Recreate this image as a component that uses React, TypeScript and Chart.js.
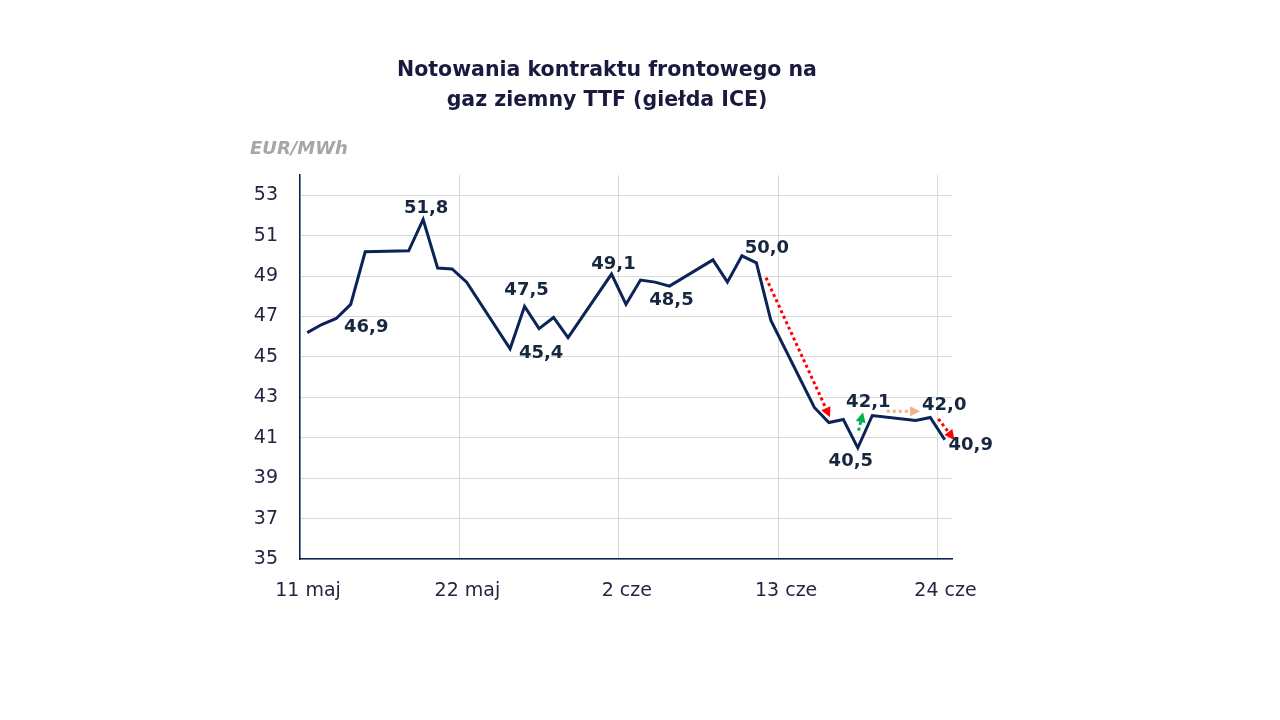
import { useEffect, useRef } from "react"
import { Chart, registerables } from "chart.js"

Chart.register(...registerables)

// Trading days (weekends skipped) and front-month TTF price, EUR/MWh
const startDate = "2026-05-11"
const tradingDays = [
  "2026-05-11", "2026-05-12", "2026-05-13", "2026-05-14", "2026-05-15",
  "2026-05-18", "2026-05-19", "2026-05-20", "2026-05-21", "2026-05-22",
  "2026-05-25", "2026-05-26", "2026-05-27", "2026-05-28", "2026-05-29",
  "2026-06-01", "2026-06-02", "2026-06-03", "2026-06-04", "2026-06-05",
  "2026-06-08", "2026-06-09", "2026-06-10", "2026-06-11", "2026-06-12",
  "2026-06-15", "2026-06-16", "2026-06-17", "2026-06-18", "2026-06-19",
  "2026-06-22", "2026-06-23", "2026-06-24",
]
const prices = [
  46.2, 46.6, 46.9, 47.6, 50.2,
  50.25, 51.8, 49.4, 49.35, 48.7,
  45.4, 47.5, 46.4, 46.95, 45.95,
  49.1, 47.6, 48.8, 48.7, 48.5,
  49.8, 48.7, 50.0, 49.65, 46.8,
  42.5, 41.75, 41.9, 40.5, 42.1,
  41.85, 42.0, 40.9,
]

const tickDates = ["2026-05-11", "2026-05-22", "2026-06-02", "2026-06-13", "2026-06-24"]
const tickLabels = ["11 maj", "22 maj", "2 cze", "13 cze", "24 cze"]
const yTicks = [35, 37, 39, 41, 43, 45, 47, 49, 51, 53]

const title = ["Notowania kontraktu frontowego na", "gaz ziemny TTF (giełda ICE)"]
const unit = "EUR/MWh"

// which points get a value label, and where the label sits relative to the point (px)
const pointLabels = [
  { date: "2026-05-13", dx: 30, dy: 9 },
  { date: "2026-05-19", dx: 3, dy: -11 },
  { date: "2026-05-25", dx: 31, dy: 5 },
  { date: "2026-05-26", dx: 2, dy: -16 },
  { date: "2026-06-01", dx: 2, dy: -10 },
  { date: "2026-06-05", dx: 2, dy: 14 },
  { date: "2026-06-10", dx: 25, dy: -8 },
  { date: "2026-06-18", dx: -7, dy: 13 },
  { date: "2026-06-19", dx: -4, dy: -13 },
  { date: "2026-06-23", dx: 14, dy: -12 },
  { date: "2026-06-24", dx: 26, dy: 6 },
]

// dotted trend arrows, in [day index, price] units
const arrows = [
  { from: [31.66, 48.92], to: [36.08, 42.01], color: "#ff0000" },
  { from: [38.05, 41.35], to: [38.36, 42.26], color: "#00b050" },
  { from: [40.0, 42.31], to: [42.3, 42.31], color: "#f4b183" },
  { from: [43.56, 41.93], to: [44.67, 40.89], color: "#ff0000" },
]

const NAVY = "#0b2357"
const FONT = "'DejaVu Sans', sans-serif"

const dayIndex = (d: string) => (Date.parse(d) - Date.parse(startDate)) / 86400000
const fmt = (v: number) => v.toFixed(1).replace(".", ",")

const overlay = {
  id: "overlay",
  afterDatasetsDraw(chart: any) {
    const { ctx, scales } = chart
    const x = scales.x
    const y = scales.y
    ctx.save()

    // arrows
    for (const a of arrows) {
      const x1 = x.getPixelForValue(a.from[0])
      const y1 = y.getPixelForValue(a.from[1])
      const x2 = x.getPixelForValue(a.to[0])
      const y2 = y.getPixelForValue(a.to[1])
      const ang = Math.atan2(y2 - y1, x2 - x1)
      const head = 10
      const bx = x2 - head * Math.cos(ang)
      const by = y2 - head * Math.sin(ang)
      ctx.strokeStyle = a.color
      ctx.lineWidth = 3
      ctx.setLineDash([3, 3])
      ctx.beginPath()
      ctx.moveTo(x1, y1)
      ctx.lineTo(bx, by)
      ctx.stroke()
      ctx.setLineDash([])
      ctx.fillStyle = a.color
      ctx.beginPath()
      ctx.moveTo(x2, y2)
      ctx.lineTo(bx + 5 * Math.sin(ang), by - 5 * Math.cos(ang))
      ctx.lineTo(bx - 5 * Math.sin(ang), by + 5 * Math.cos(ang))
      ctx.closePath()
      ctx.fill()
    }

    // value labels
    ctx.font = `bold 18px ${FONT}`
    ctx.fillStyle = "#17273f"
    ctx.textAlign = "center"
    ctx.textBaseline = "middle"
    for (const l of pointLabels) {
      const i = tradingDays.indexOf(l.date)
      const px = x.getPixelForValue(dayIndex(l.date))
      const py = y.getPixelForValue(prices[i])
      ctx.fillText(fmt(prices[i]), px + l.dx, py + l.dy)
    }

    // title + unit
    ctx.fillStyle = "#1a1a3e"
    ctx.font = `bold 20.5px ${FONT}`
    ctx.fillText(title[0], 607, 71)
    ctx.fillText(title[1], 607, 101)
    ctx.textAlign = "left"
    ctx.fillStyle = "#a6a6a6"
    ctx.font = `italic bold 18px ${FONT}`
    ctx.fillText(unit, 250, 149)
    ctx.restore()
  },
}

export default function App() {
  const chartRef = useRef<HTMLCanvasElement>(null)
  const chartInstance = useRef<Chart | null>(null)

  useEffect(() => {
    if (!chartRef.current) return
    if (chartInstance.current) chartInstance.current.destroy()

    const ctx = chartRef.current.getContext("2d")
    if (!ctx) return

    chartInstance.current = new Chart(ctx, {
      type: "line",
      data: {
        datasets: [
          {
            label: "TTF",
            data: tradingDays.map((d, i) => ({ x: dayIndex(d), y: prices[i] })),
            borderColor: NAVY,
            borderWidth: 3,
            pointRadius: 0,
            tension: 0,
            fill: false,
          },
        ],
      },
      options: {
        animation: false,
        responsive: true,
        maintainAspectRatio: false,
        events: [],
        layout: { padding: { top: 175, right: 328, bottom: 0, left: 0 } },
        plugins: {
          legend: { display: false },
          tooltip: { enabled: false },
        },
        scales: {
          x: {
            type: "linear",
            min: -0.5,
            max: 44.5,
            afterBuildTicks: (s: any) => {
              s.ticks = tickDates.map((d) => ({ value: dayIndex(d) - 0.5 }))
            },
            afterFit: (s: any) => {
              s.height = 161
            },
            grid: { color: "#d9d9d9", lineWidth: 1, drawTicks: false },
            border: { color: NAVY, width: 1.5 },
            ticks: {
              callback: (_v: any, i: number) => tickLabels[i],
              labelOffset: 8,
              padding: 21,
              maxRotation: 0,
              autoSkip: false,
              color: "#222640",
              font: { family: FONT, size: 19 },
            },
          },
          y: {
            min: 35,
            max: 54,
            afterBuildTicks: (s: any) => {
              s.ticks = yTicks.map((v) => ({ value: v }))
            },
            afterFit: (s: any) => {
              s.width = 300
            },
            grid: { color: "#d9d9d9", lineWidth: 1, drawTicks: false },
            border: { color: NAVY, width: 1.5 },
            ticks: {
              padding: 22,
              color: "#222640",
              font: { family: FONT, size: 19 },
            },
          },
        },
      },
      plugins: [overlay],
    })

    return () => {
      if (chartInstance.current) {
        chartInstance.current.destroy()
        chartInstance.current = null
      }
    }
  }, [])

  return (
    <div style={{ position: "absolute", left: 0, top: 0, width: 1280, height: 720, background: "#fff" }}>
      <canvas ref={chartRef} />
    </div>
  )
}
